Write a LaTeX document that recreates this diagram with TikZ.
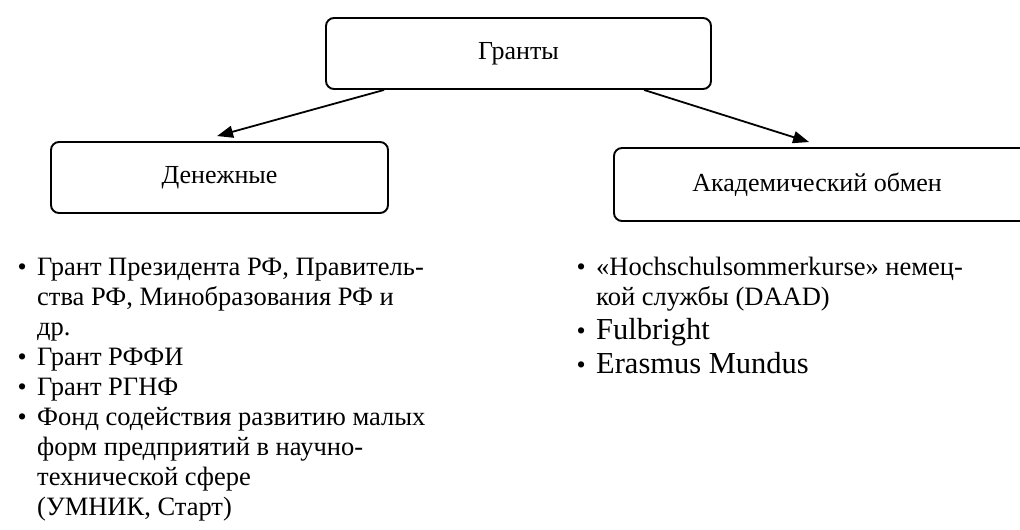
\documentclass[tikz,border=0pt]{standalone}
\usepackage{fontspec}
\setmainfont{Liberation Serif}
\usetikzlibrary{arrows.meta}
\newcommand{\lbul}[1]{\makebox[#1][l]{\makebox[0pt]{\fontsize{26}{30}\selectfont\textbullet}}}
\begin{document}
\begin{tikzpicture}[x=1pt,y=-1pt,
  box/.style={draw, line width=1.9pt, rounded corners=8pt, inner sep=0pt, minimum height=71pt, font=\fontsize{26}{30}\selectfont},
  arr/.style={line width=1.8pt, -{Triangle[length=16pt,width=12pt]}},
  lst/.style={anchor=base west, inner sep=0pt, font=\fontsize{26.5}{30}\selectfont},
  big/.style={anchor=base west, inner sep=0pt, font=\fontsize{30.5}{34}\selectfont}]
\useasboundingbox (0,0) rectangle (1020,530);
\clip (0,0) rectangle (1020,530);
\node[box, minimum width=385pt] (g) at (518.5,53.5) {Гранты};
\node[box, minimum width=337pt] (d) at (219.5,177.5) {Денежные};
\node[box, minimum width=420pt, minimum height=73pt] (a) at (824,184.5) {\raisebox{3pt}{Академический обмен}\hspace*{14pt}};
\draw[arr] ([xshift=59pt]g.south west) -- ([xshift=167pt,yshift=5pt]d.north west);
\draw[arr] ([xshift=319pt]g.south west) -- ([xshift=196pt,yshift=5pt]a.north west);
\node[lst] (l1) at (22,275) {\begin{tabular}[t]{@{}l@{}l@{}}
\lbul{15pt} & Грант Президента РФ, Правитель-\\
 & ства РФ, Минобразования РФ и\\
 & др.\\
\lbul{15pt} & Грант РФФИ\\
\lbul{15pt} & Грант РГНФ\\
\lbul{15pt} & Фонд содействия развитию малых\\
 & форм предприятий в научно-\\
 & технической сфере\\
 & (УМНИК, Старт)
\end{tabular}};
\node[lst] (r1) at (581,275) {\begin{tabular}[t]{@{}l@{}l@{}}
\lbul{15pt} & «Hochschulsommerkurse» немец-\\
 & кой службы (DAAD)
\end{tabular}};
\node[big] (r2) at (581,339) {\lbul{15pt}Fulbright};
\node[big] (r3) at (581,373) {\lbul{15pt}Erasmus Mundus};
\end{tikzpicture}
\end{document}
